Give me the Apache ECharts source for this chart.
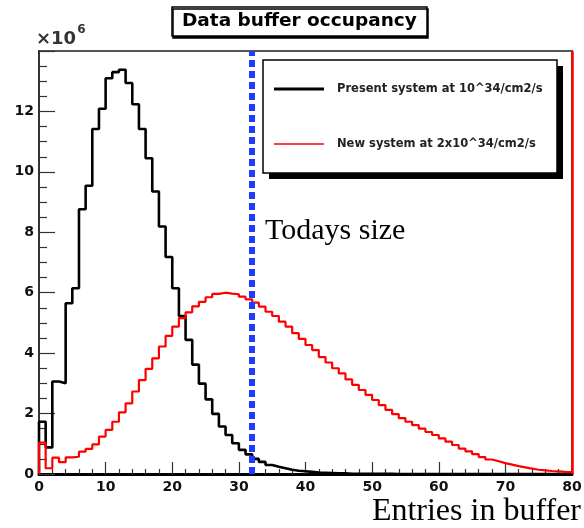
<!DOCTYPE html>
<html>
<head>
<meta charset="utf-8">
<script src="https://cdn.jsdelivr.net/npm/echarts@6/dist/echarts.min.js"></script>
<style>
html,body{margin:0;padding:0;background:#fff;}
#chart{width:584px;height:528px;}
</style>
</head>
<body>
<div id="chart"></div>
<script>
// Counts per unit-width bin (x 10^6), bins [i, i+1) for i = 0..79
const presentCounts = [1.73,0.88,3.06,3.00,5.65,6.15,8.76,9.54,11.42,12.09,
  13.10,13.30,13.38,12.94,12.24,11.42,10.45,9.35,8.19,7.18,
  6.15,5.23,4.44,3.62,2.99,2.47,1.99,1.57,1.29,1.02,
  0.80,0.65,0.50,0.40,0.30,0.24,0.19,0.14,0.11,0.09,
  0.07,0.05,0.04,0.03,0.02,0.02,0.01,0.01,0.01,0.01,
  0.01,0.01,0.01,0.00,0.00,0.00,0.00,0.00,0.00,0.00,
  0.00,0.00,0.00,0.00,0.00,0.00,0.00,0.00,0.00,0.00,
  0.00,0.00,0.00,0.00,0.00,0.00,0.00,0.00,0.00,0.00];
const newCounts = [1.04,0.19,0.54,0.39,0.55,0.57,0.74,0.83,0.98,1.24,
  1.46,1.73,2.04,2.34,2.73,3.11,3.48,3.83,4.22,4.57,
  4.88,5.16,5.35,5.55,5.70,5.85,5.96,6.00,5.97,5.95,
  5.87,5.78,5.67,5.54,5.37,5.23,5.04,4.88,4.66,4.47,
  4.27,4.10,3.87,3.69,3.50,3.33,3.13,2.95,2.78,2.62,
  2.45,2.28,2.12,1.98,1.85,1.73,1.62,1.50,1.39,1.29,
  1.18,1.07,0.96,0.84,0.75,0.66,0.56,0.48,0.42,0.36,
  0.31,0.26,0.22,0.18,0.14,0.12,0.10,0.09,0.07,0.06];
const xTickLabels = [0,10,20,30,40,50,60,70,80];
const yTickLabels = [0,2,4,6,8,10,12];
const seriesNames = ['Present system at 10^34/cm2/s', 'New system at 2x10^34/cm2/s'];
const todaysSize = 32;      // current buffer size (entries)
const xRange = [0, 80];
const yRange = [0, 14];

function histPoints(counts) {
  const pts = [[0, 0]];
  counts.forEach((v, i) => pts.push([i, v]));
  pts.push([counts.length, counts[counts.length - 1]]);
  return pts;
}

const chart = echarts.init(document.getElementById('chart'), null, {renderer: 'canvas'});
const sansBold = {fontFamily: '"DejaVu Sans", Verdana, sans-serif', fontWeight: 'bold'};

chart.setOption({
  animation: false,
  backgroundColor: '#fff',
  title: {
    text: 'Data buffer occupancy',
    left: 172, top: 7,
    padding: [5, 10, 5, 10],
    borderColor: '#000', borderWidth: 1.5,
    backgroundColor: '#fff',
    shadowColor: '#000', shadowOffsetX: 1, shadowOffsetY: 2, shadowBlur: 0,
    textStyle: Object.assign({fontSize: 18.5, color: '#000'}, sansBold)
  },
  grid: {left: 39, right: 12, top: 51, bottom: 54, show: true, containLabel: false,
         outerBoundsMode: 'none',
         borderColor: '#555', borderWidth: 2, backgroundColor: 'transparent'},
  graphic: [
    {type: 'rect', shape: {x: 269, y: 66, width: 294, height: 113}, style: {fill: '#000'}, z: 50},
    {type: 'rect', shape: {x: 263, y: 60, width: 294, height: 113},
     style: {fill: '#fff', stroke: '#000', lineWidth: 1.5}, z: 51},
    {type: 'text', left: 265, top: 216, z: 60,
     style: {text: 'Todays size', font: '30px "Liberation Serif", "Times New Roman", serif', fill: '#000'}}
  ],
  legend: {
    orient: 'vertical',
    left: 263, top: 60,
    padding: [23, 10, 10, 11],
    itemGap: 43,
    itemWidth: 50, itemHeight: 14,
    z: 60,
    textStyle: Object.assign({fontSize: 11.5, color: '#222', padding: [0, 0, 0, 8]}, sansBold),
    data: [
      {name: seriesNames[0], icon: 'path://M0,0L50,0L50,3L0,3Z', itemStyle: {color: '#000'}},
      {name: seriesNames[1], icon: 'path://M0,0L50,0L50,1.5L0,1.5Z', itemStyle: {color: '#f00'}}
    ]
  },
  xAxis: {
    type: 'value', min: xRange[0], max: xRange[1], interval: 10,
    name: 'Entries in buffer', nameLocation: 'end', nameGap: 9,
    nameTextStyle: {fontFamily: 'Liberation Serif, Times New Roman, serif', fontSize: 32, color: '#000',
      align: 'right', verticalAlign: 'top', padding: [22, 0, 0, 0]},
    axisLine: {show: true, onZero: false, lineStyle: {color: '#000', width: 3}},
    axisTick: {show: true, inside: true, length: 12, lineStyle: {color: '#333', width: 1.2}},
    minorTick: {show: true, splitNumber: 5, length: 5, lineStyle: {color: '#333', width: 1.2}},
    splitLine: {show: false},
    axisLabel: Object.assign({fontSize: 14, color: '#111', margin: 6,
      formatter: v => xTickLabels.includes(v) ? String(v) : ''}, sansBold)
  },
  yAxis: {
    type: 'value', min: yRange[0], max: yRange[1], interval: 2,
    name: '{a|×10}{b|6}', nameLocation: 'end', nameGap: 3,
    nameTextStyle: {align: 'left', padding: [0, 0, 0, -3],
      rich: {a: {fontSize: 18, color: '#333', fontFamily: '"DejaVu Sans", sans-serif', fontWeight: 'bold', verticalAlign: 'bottom'},
             b: {fontSize: 12, color: '#333', fontFamily: '"DejaVu Sans", sans-serif', fontWeight: 'bold', verticalAlign: 'top', padding: [0, 0, 12, 1]}}},
    axisLine: {show: true, lineStyle: {color: '#333', width: 2}},
    axisTick: {show: true, inside: true, length: 16, lineStyle: {color: '#333', width: 1.2}},
    minorTick: {show: true, splitNumber: 4, length: 8, lineStyle: {color: '#333', width: 1.2}},
    splitLine: {show: false},
    axisLabel: Object.assign({fontSize: 14, color: '#111', margin: 5,
      formatter: v => yTickLabels.includes(v) ? String(v) : ''}, sansBold)
  },
  series: [
    {
      name: seriesNames[0], type: 'line', step: 'end', symbol: 'none',
      data: histPoints(presentCounts),
      lineStyle: {color: '#000', width: 2.6}, itemStyle: {color: '#000'},
      z: 3,
      markLine: {
        silent: true, symbol: ['none', 'none'], label: {show: false},
        lineStyle: {color: '#1f3cff', width: 6, type: [7, 4]},
        data: [{xAxis: todaysSize}]
      }
    },
    {
      name: seriesNames[1], type: 'line', step: 'end', symbol: 'none',
      data: histPoints(newCounts),
      lineStyle: {color: '#f00', width: 2.2}, itemStyle: {color: '#f00'},
      z: 4,
      markLine: {
        silent: true, symbol: ['none', 'none'], label: {show: false},
        lineStyle: {color: '#f00', width: 2.5, type: 'solid'},
        data: [{xAxis: xRange[1]}]
      }
    }
  ]
});
</script>
</body>
</html>
